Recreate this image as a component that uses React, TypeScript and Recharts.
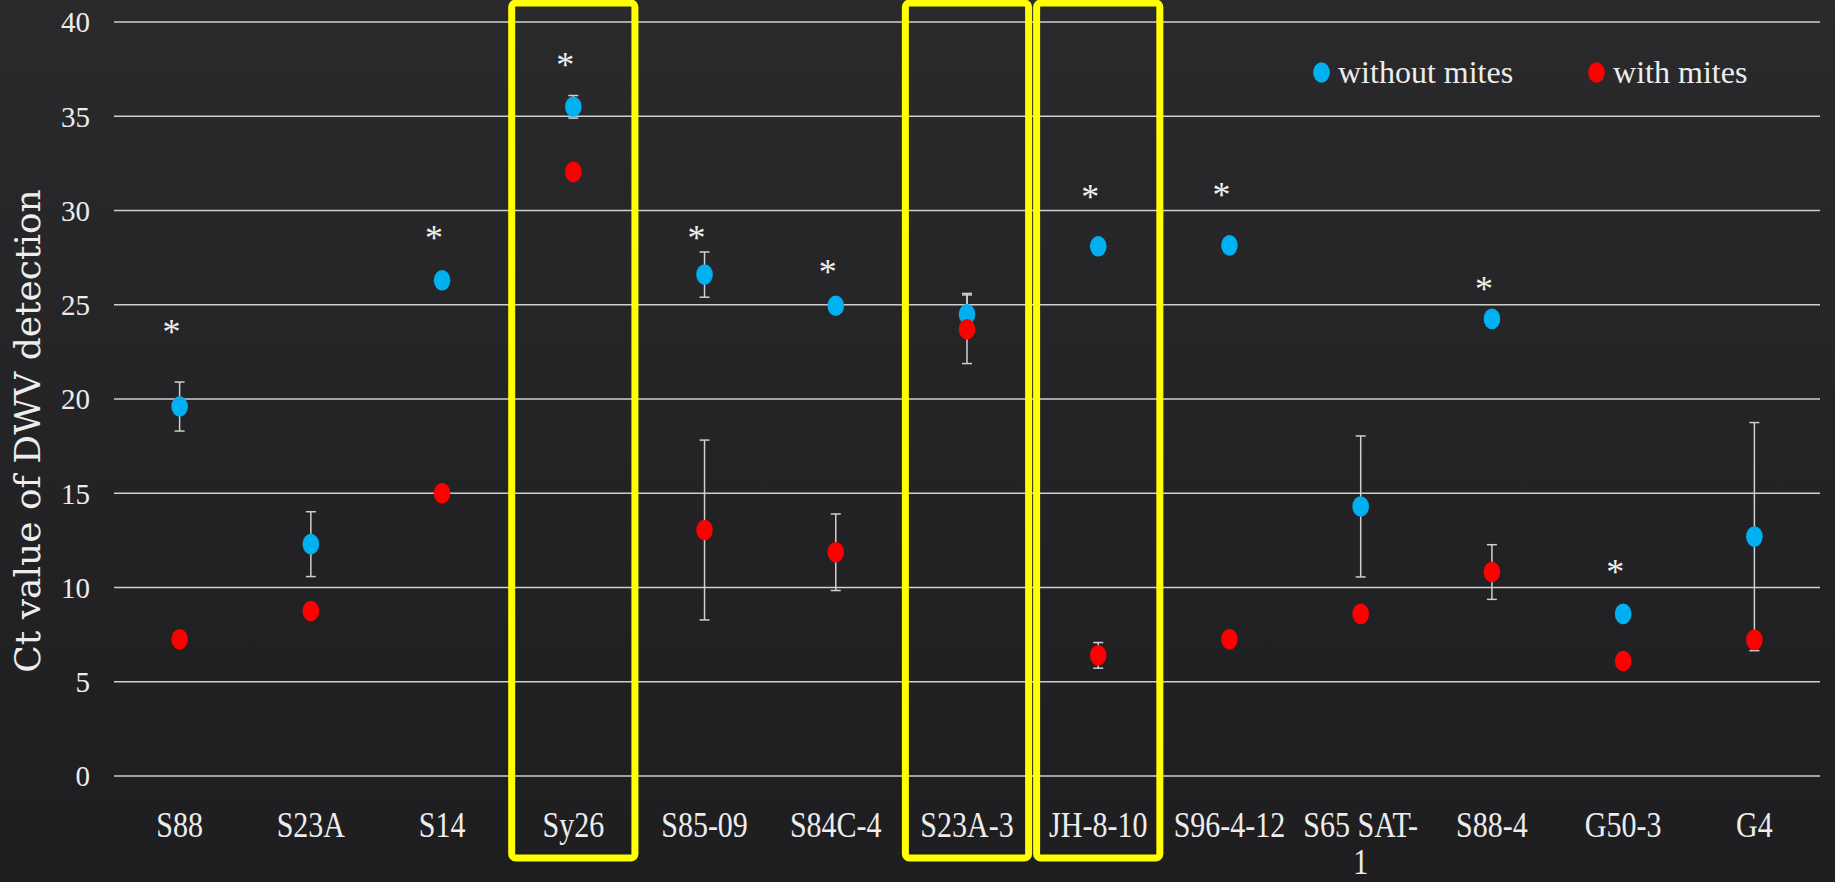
import { ComposedChart, Line, XAxis, YAxis, CartesianGrid, ErrorBar, ReferenceArea, Legend } from 'recharts'

const categories = ['S88', 'S23A', 'S14', 'Sy26', 'S85-09', 'S84C-4', 'S23A-3', 'JH-8-10', 'S96-4-12', 'S65 SAT-1', 'S88-4', 'G50-3', 'G4']
const withoutMites = [19.6, 12.3, 26.3, 35.5, 26.6, 24.95, 24.5, 28.1, 28.15, 14.3, 24.25, 8.6, 12.7]
const withoutMitesErr = [1.3, 1.72, 0.4, 0.6, 1.2, 0, 1.1, 0, 0, 3.74, 0, 0, 6.05]
const withMites = [7.25, 8.75, 15.0, 32.05, 13.05, 11.87, 23.7, 6.4, 7.25, 8.6, 10.82, 6.1, 7.22]
const withMitesErr = [0, 0, 0, 0, 4.77, 2.03, 1.82, 0.68, 0, 0, 1.45, 0, 0]
// where the significance asterisks sit
const asterisks = [23.8, null, 28.8, 38.0, 28.8, 27.0, null, 31.0, 31.1, null, 26.1, 11.1, null]
const boxedCategories = ['Sy26', 'S23A-3', 'JH-8-10']
const yTicks = [0, 5, 10, 15, 20, 25, 30, 35, 40]

const BLUE = '#00B0F0'
const RED = '#FF0000'
const TEXT = '#EDEDED'
const GRID = '#CFCFCF'
const SERIF = "'Liberation Serif', 'Times New Roman', serif"

const legendOrder = ['without', 'with']
const seriesColors: Record<string, string> = { without: BLUE, with: RED }

const data = categories.map((name, i) => ({
  name,
  without: withoutMites[i],
  withoutErr: withoutMitesErr[i],
  with: withMites[i],
  withErr: withMitesErr[i],
  star: asterisks[i],
}))

function ellipseDot(color: string) {
  return (p: any) => {
    if (p.cx == null || p.cy == null) return <g key={p.index} />
    return <ellipse key={p.index} cx={p.cx} cy={p.cy} rx={8.3} ry={10.3} fill={color} />
  }
}

function starDot(p: any) {
  if (p.cx == null || p.cy == null || p.value == null) return <g key={p.index} />
  return (
    <text key={p.index} x={p.cx - 8} y={p.cy + 17} textAnchor="middle" fontSize={36} fontFamily={SERIF} fill={TEXT}>
      *
    </text>
  )
}

function splitLabel(label: string): string[] {
  const idx = label.lastIndexOf('-')
  if (label.length > 8 && idx > 0) return [label.slice(0, idx + 1), label.slice(idx + 1)]
  return [label]
}

// the original labels are a tall, narrow serif: stretch a bit vertically
function CategoryTick({ x, y, payload }: any) {
  const lines = splitLabel(String(payload.value))
  return (
    <text
      transform={`translate(${x},${y + 61}) scale(1,1.22)`}
      textAnchor="middle"
      fontSize={30}
      fontFamily={SERIF}
      fill={TEXT}
    >
      {lines.map((l, i) => (
        <tspan key={i} x={0} dy={i === 0 ? 0 : 30}>{l}</tspan>
      ))}
    </text>
  )
}

function BoxShape(p: any) {
  return <rect x={p.x + 4} y={3} width={p.width - 8} height={855} rx={4} fill="none" stroke="#FFFF00" strokeWidth={7} />
}

function renderYLabel(props: any) {
  const vb = props.viewBox || { x: 0, y: 22, width: 114, height: 754 }
  const cx = vb.x + 27
  const cy = vb.y + vb.height / 2 + 32
  return (
    <text
      transform={`translate(${cx},${cy}) rotate(-90)`}
      textAnchor="middle"
      dominantBaseline="central"
      fontSize={36}
      fontFamily="'DejaVu Serif', serif"
      fill={TEXT}
    >
      Ct value of DWV detection
    </text>
  )
}

function renderLegend(props: any) {
  const items = (props.payload ?? [])
    .filter((e: any) => e.type !== 'none')
    .sort((a: any, b: any) => legendOrder.indexOf(a.dataKey) - legendOrder.indexOf(b.dataKey))
  return (
    <div style={{ display: 'flex', alignItems: 'center', fontFamily: SERIF, fontSize: 32, lineHeight: '36px', color: TEXT }}>
      {items.map((e: any, i: number) => (
        <div key={e.value} style={{ display: 'flex', alignItems: 'center', marginRight: i === 0 ? 75 : 0 }}>
          <svg width={17} height={21}>
            <ellipse cx={8.5} cy={10.5} rx={8.3} ry={10.3} fill={seriesColors[e.dataKey] ?? e.color} />
          </svg>
          <span style={{ marginLeft: 8, whiteSpace: 'nowrap' }}>{e.value}</span>
        </div>
      ))}
    </div>
  )
}

export default function App() {
  return (
    <div
      style={{
        position: 'fixed',
        left: 0,
        top: 0,
        width: 1835,
        height: 882,
        background: 'linear-gradient(180deg, #2a2a2c 0%, #232325 55%, #1e1e20 100%)',
      }}
    >
      <ComposedChart width={1835} height={882} data={data} margin={{ top: 22, right: 15, left: 0, bottom: 6 }}>
        <CartesianGrid vertical={false} stroke={GRID} strokeWidth={1.5} />
        <XAxis
          dataKey="name"
          scale="band"
          interval={0}
          height={100}
          axisLine={false}
          tickLine={false}
          tickSize={0}
          tickMargin={0}
          tick={(p: any) => <CategoryTick {...p} />}
        />
        <YAxis
          domain={[0, 40]}
          ticks={yTicks}
          width={114}
          axisLine={false}
          tickLine={false}
          tickSize={0}
          tickMargin={24}
          tick={{ fill: TEXT, fontSize: 29, fontFamily: SERIF }}
          label={{ content: renderYLabel }}
        />
        {boxedCategories.map(c => (
          <ReferenceArea key={c} x1={c} x2={c} ifOverflow="visible" shape={BoxShape} />
        ))}
        <Line
          dataKey="without"
          name="without mites"
          stroke="none"
          dot={ellipseDot(BLUE)}
          activeDot={false}
          isAnimationActive={false}
        >
          <ErrorBar dataKey="withoutErr" width={5} stroke={GRID} strokeWidth={1.5} isAnimationActive={false} />
        </Line>
        <Line
          dataKey="with"
          name="with mites"
          stroke="none"
          dot={ellipseDot(RED)}
          activeDot={false}
          isAnimationActive={false}
        >
          <ErrorBar dataKey="withErr" width={5} stroke={GRID} strokeWidth={1.5} isAnimationActive={false} />
        </Line>
        <Line
          dataKey="star"
          stroke="none"
          dot={starDot}
          activeDot={false}
          legendType="none"
          isAnimationActive={false}
        />
        <Legend
          verticalAlign="middle"
          align="center"
          content={renderLegend}
          wrapperStyle={{ top: 54, left: 1313, width: 500, height: 36 }}
        />
      </ComposedChart>
    </div>
  )
}
